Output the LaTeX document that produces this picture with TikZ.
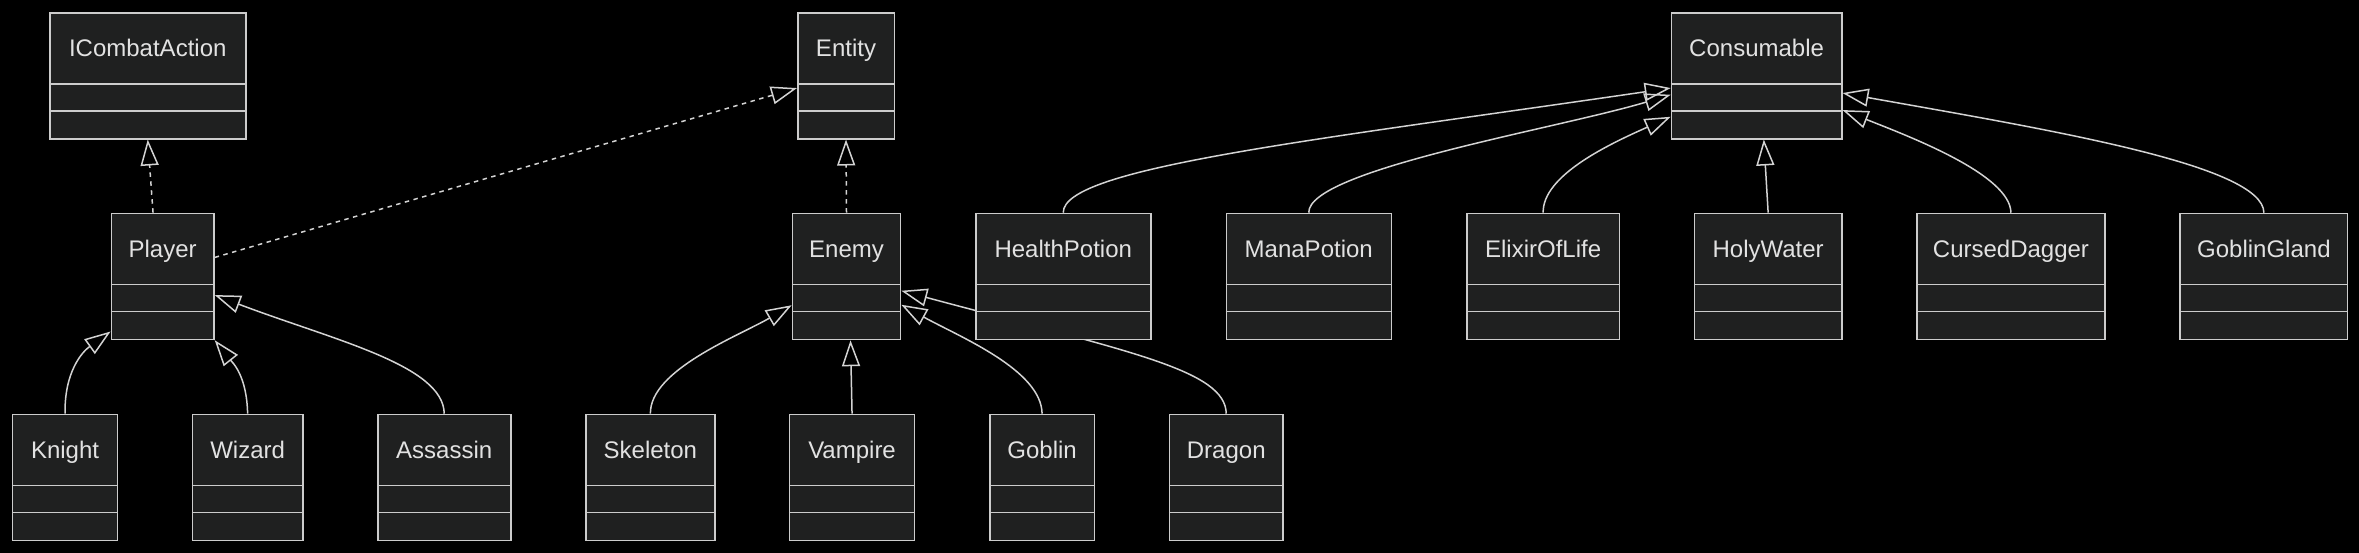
\documentclass[tikz,border=0pt]{standalone}
\usepackage{fontspec}
\setmainfont{Liberation Sans}
\usetikzlibrary{arrows.meta}
\definecolor{boxfill}{HTML}{1F2020}
\definecolor{boxline}{HTML}{CCCCCC}
\definecolor{edgecol}{HTML}{D3D3D3}
\definecolor{txtcol}{HTML}{E2E2E2}
\pgfdeclarelayer{bg}
\pgfdeclarelayer{edges}
\pgfsetlayers{bg,edges,main}
\tikzset{
  clsbox/.style={draw=boxline, fill=boxfill, line width=1.5pt, inner sep=0pt, minimum height=126pt},
  clsrule/.style={draw=boxline, line width=1.5pt},
  clstext/.style={text=txtcol, font=\fontsize{24}{28}\selectfont, inner sep=0pt, anchor=base},
  inherit/.style={draw=edgecol, line width=1.5pt, -{Triangle[open,length=26pt,width=18pt]}},
  realize/.style={inherit, dash pattern=on 4.5pt off 4.5pt},
}
\newcommand\umlclass[5]{%
  \pgfmathsetmacro\clsw{#3-#2}%
  \node[clsbox, minimum width=\clsw pt, anchor=north west] (#1) at (#2,#4) {};
  \node[clstext] (#1-label) at ([yshift=-44.5pt]#1.north) {#5};
  \draw[clsrule] ([yshift=-72pt]#1.north west) -- ([yshift=-72pt]#1.north east);
  \draw[clsrule] ([yshift=-99pt]#1.north west) -- ([yshift=-99pt]#1.north east);
}
\begin{document}
\begin{tikzpicture}[x=1pt,y=-1pt]
\useasboundingbox (0,0) rectangle (2359,552);
\begin{pgfonlayer}{bg}
\fill[black] (-3,-3) rectangle (2362,555);
\end{pgfonlayer}
% top row
\umlclass{icombat}{49}{245}{12}{ICombatAction}
\umlclass{entity}{797}{893.5}{12}{Entity}
\umlclass{consumable}{1670.7}{1841}{12}{Consumable}
% middle row
\umlclass{player}{110.6}{213.2}{212.7}{Player}
\umlclass{enemy}{791.7}{899.8}{212.7}{Enemy}
\umlclass{healthpotion}{975}{1150}{212.7}{HealthPotion}
\umlclass{manapotion}{1225.5}{1390.5}{212.7}{ManaPotion}
\umlclass{elixir}{1466}{1618.8}{212.7}{ElixirOfLife}
\umlclass{holywater}{1693.8}{1841}{212.7}{HolyWater}
\umlclass{cursed}{1916}{2104.4}{212.7}{CursedDagger}
\umlclass{goblingland}{2179.4}{2346.9}{212.7}{GoblinGland}
% bottom row
\umlclass{knight}{11.9}{116.7}{413.7}{Knight}
\umlclass{wizard}{191.7}{302}{413.7}{Wizard}
\umlclass{assassin}{377}{510}{413.7}{Assassin}
\umlclass{skeleton}{585.2}{714.1}{413.7}{Skeleton}
\umlclass{vampire}{788.8}{913.8}{413.7}{Vampire}
\umlclass{goblin}{989}{1093.7}{413.7}{Goblin}
\umlclass{dragon}{1168.8}{1282.2}{413.7}{Dragon}
\begin{pgfonlayer}{edges}
\draw[realize] ([xshift=-9.6pt]player.north) -- (icombat.south);
\draw[realize] ([yshift=19pt]player.east) -- ([yshift=-12.3pt]entity.west);
\draw[inherit] (knight.north) .. controls (64.3,372) and (82,352) .. ([yshift=8.7pt]player.south west);
\draw[inherit] (wizard.north) .. controls (246.85,375) and (232,362) .. (player.south east);
\draw[inherit] (assassin.north) .. controls (443.5,365) and (333,340) .. ([yshift=-18.6pt]player.east);
\draw[realize] (enemy.north) -- (entity.south);
\draw[inherit] (skeleton.north) .. controls (649.65,370) and (738.5,336) .. ([yshift=-28.8pt]enemy.west);
\draw[inherit] (vampire.north) -- ([xshift=4pt]enemy.south);
\draw[inherit] (goblin.north) .. controls (1041.35,370) and (960,337) .. ([yshift=-28.3pt]enemy.east);
\draw[inherit] (dragon.north) .. controls (1225.5,370) and (1130,352) .. ([yshift=-14.3pt]enemy.east);
\draw[inherit] (healthpotion.north) .. controls (1062.5,168) and (1308,141) .. ([yshift=-12.3pt]consumable.west);
\draw[inherit] (manapotion.north) .. controls (1308,170) and (1556,129) .. ([yshift=-19pt]consumable.west);
\draw[inherit] (elixir.north) .. controls (1542.4,175) and (1610.7,143.5) .. ([yshift=-41pt]consumable.west);
\draw[inherit] (holywater.north) -- ([xshift=7.2pt]consumable.south);
\draw[inherit] (cursed.north) .. controls (2010.2,175) and (1912,137.5) .. ([yshift=-34.3pt]consumable.east);
\draw[inherit] (goblingland.north) .. controls (2263.15,165) and (2050,130) .. ([yshift=-17.3pt]consumable.east);
\end{pgfonlayer}
\end{tikzpicture}
\end{document}
